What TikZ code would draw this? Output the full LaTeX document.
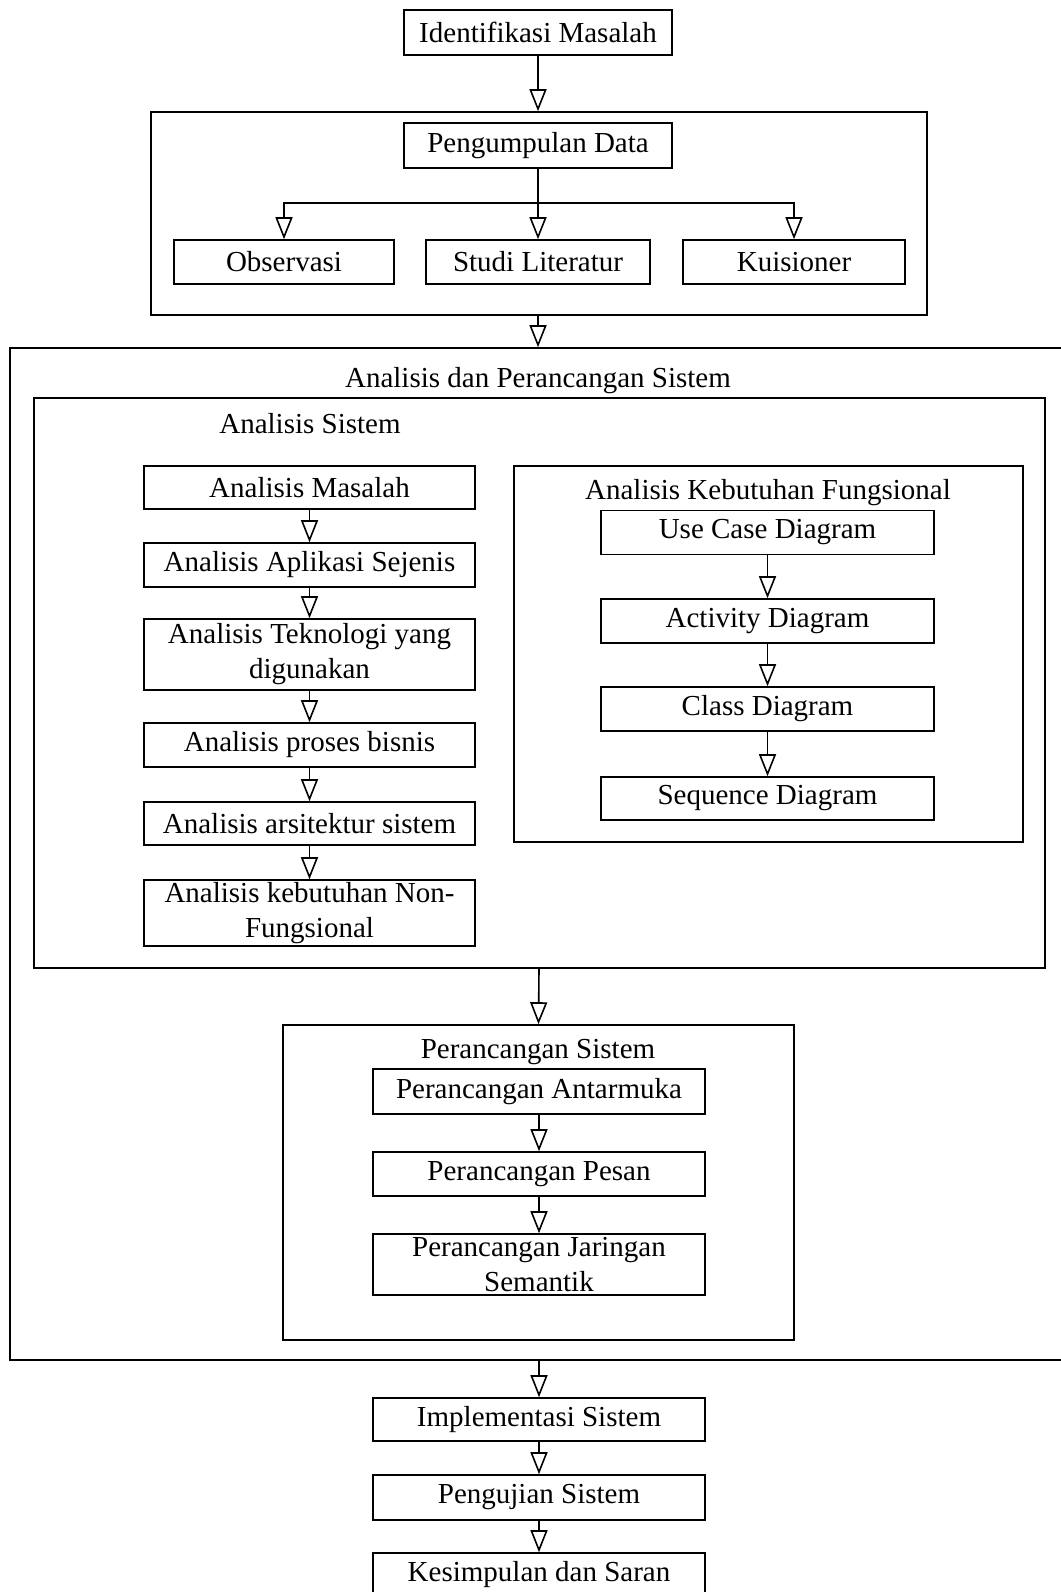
\documentclass[tikz,border=0pt]{standalone}
\usepackage{fontspec}
\setmainfont{Liberation Serif}
\usetikzlibrary{arrows.meta}
\tikzset{
    block/.style = {draw, rectangle, line width=1.6pt,
        minimum height=44pt,
        minimum width=331pt,
        inner sep=0pt, align=center,
        font=\fontsize{29}{35}\selectfont},
    group/.style = {draw, rectangle, line width=1.6pt, inner sep=0pt},
    title/.style = {inner sep=0pt, font=\fontsize{29}{35}\selectfont},
    arrow/.style = {draw, line width=1.6pt,
        -{Triangle[open, length=22pt, width=17pt, fill=white]}}
}

\begin{document}
\begin{tikzpicture}[x=1pt, y=-1pt]
                \useasboundingbox (0,0) rectangle (1060,1592);
                % top part
                \node[block, minimum width=268pt, minimum height=45pt] (ident) at (538,32.5) {Identifikasi Masalah};
                \node[group, minimum width=776pt, minimum height=203pt] (datagrp) at (539,213.5) {};
                \node[block, minimum width=268pt, minimum height=45pt] (kumpul) at (538,145.5) {Pengumpulan Data};
                \node[block, minimum width=220pt] (obs) at (284,262) {Observasi};
                \node[block, minimum width=224pt] (studi) at (538,262) {Studi Literatur};
                \node[block, minimum width=222pt] (kuis) at (794,262) {Kuisioner};
                \coordinate (split) at (538,203);
                % analisis dan perancangan
                \node[group, minimum width=1054pt, minimum height=1012pt] (aps) at (537,854) {};
                \node[title] (apstitle) at (538,381) {Analisis dan Perancangan Sistem};
                \node[group, minimum width=1011pt, minimum height=570pt] (asgrp) at (539.5,683) {};
                \node[title] (astitle) at (310,424) {Analisis Sistem};
                \node[block, minimum height=43pt] (am) at (309.5,487.5) {Analisis Masalah};
                \node[block] (aas) at (309.5,565) {Analisis Aplikasi Sejenis};
                \node[block, minimum height=71pt] (atk) at (309.5,654.5) {Analisis Teknologi yang\\digunakan};
                \node[block] (apb) at (309.5,745) {Analisis proses bisnis};
                \node[block, minimum height=43pt] (aar) at (309.5,823.5) {Analisis arsitektur sistem};
                \node[block, minimum height=66pt] (anf) at (309.5,913) {Analisis kebutuhan Non-\\Fungsional};
                \node[group, minimum width=509pt, minimum height=376pt] (akfgrp) at (768.5,654) {};
                \node[title] (akftitle) at (768,493) {Analisis Kebutuhan Fungsional};
                \node[block, minimum width=333pt] (uc) at (767.5,532.5) {Use Case Diagram};
                \node[block, minimum width=333pt] (act) at (767.5,621) {Activity Diagram};
                \node[block, minimum width=333pt] (cls) at (767.5,709) {Class Diagram};
                \node[block, minimum width=333pt, minimum height=43pt] (seq) at (767.5,798.5) {Sequence Diagram};
                \node[group, minimum width=511pt, minimum height=315pt] (psgrp) at (538.5,1182.5) {};
                \node[title] (pstitle) at (538,1052) {Perancangan Sistem};
                \node[block, minimum width=332pt, minimum height=45pt] (pa) at (539,1091.5) {Perancangan Antarmuka};
                \node[block, minimum width=332pt] (pp) at (539,1174) {Perancangan Pesan};
                \node[block, minimum width=332pt, minimum height=61pt] (pjs) at (539,1264.5) {Perancangan Jaringan\\Semantik};
                % bottom part
                \node[block, minimum width=332pt, minimum height=43pt] (impl) at (539,1419.5) {Implementasi Sistem};
                \node[block, minimum width=332pt, minimum height=45pt] (uji) at (539,1497.5) {Pengujian Sistem};
                \node[block, minimum width=332pt] (kes) at (539,1575) {Kesimpulan dan Saran};
                % connectors
                \draw[arrow] (ident) -- (ident.south |- datagrp.north);
                \draw[arrow] (kumpul) -- (studi);
                \draw[arrow] (split) -| (obs);
                \draw[arrow] (split) -| (kuis);
                \draw[arrow] (studi.south |- datagrp.south) -- (studi.south |- aps.north);
                \foreach \a/\b in {am/aas, aas/atk, atk/apb, apb/aar, aar/anf, uc/act, act/cls, cls/seq, pa/pp, pp/pjs, impl/uji, uji/kes}
                    \draw[arrow] (\a) -- (\b);
                \draw[arrow] (pa.north |- asgrp.south) -- (psgrp.north);
                \draw[arrow] (impl.north |- aps.south) -- (impl);
            \end{tikzpicture}
\end{document}
